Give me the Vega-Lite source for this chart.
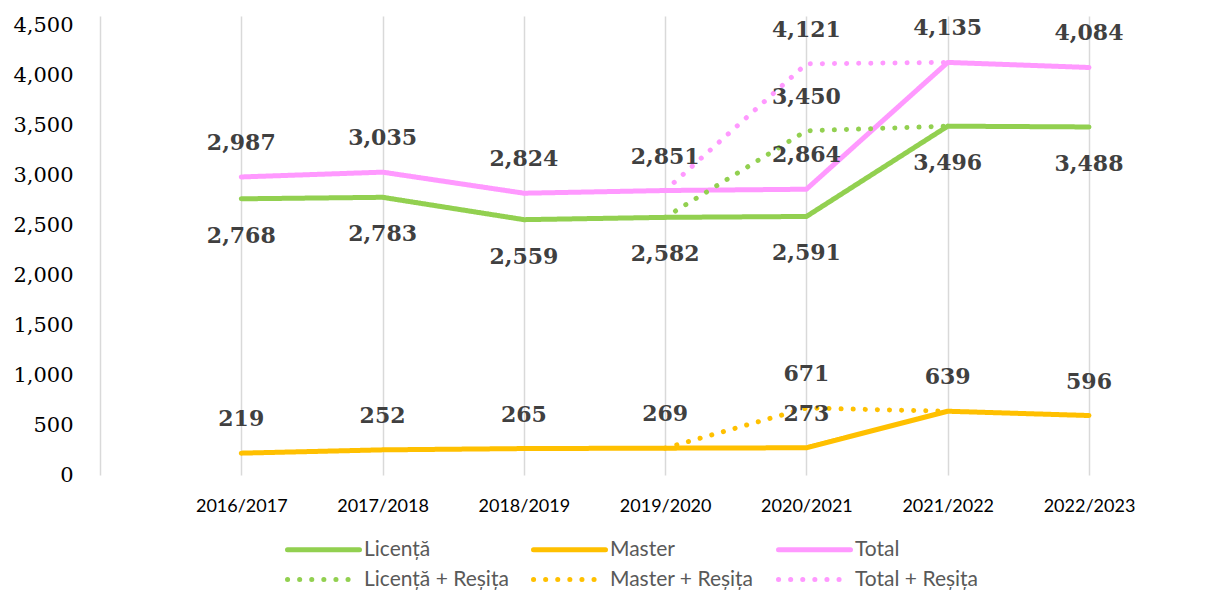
{
  "$schema": "https://vega.github.io/schema/vega-lite/v6.json",
  "width": 989,
  "height": 459,
  "autosize": {"type": "none"},
  "padding": {"left": 100, "top": 16, "right": 129, "bottom": 115},
  "background": "#ffffff",
  "config": {"view": {"stroke": null}},
  "data": {
    "values": [
      {"year": "2016/2017", "series": "Licență", "value": 2768},
      {"year": "2017/2018", "series": "Licență", "value": 2783},
      {"year": "2018/2019", "series": "Licență", "value": 2559},
      {"year": "2019/2020", "series": "Licență", "value": 2582},
      {"year": "2020/2021", "series": "Licență", "value": 2591},
      {"year": "2021/2022", "series": "Licență", "value": 3496},
      {"year": "2022/2023", "series": "Licență", "value": 3488},
      {"year": "2016/2017", "series": "Master", "value": 219},
      {"year": "2017/2018", "series": "Master", "value": 252},
      {"year": "2018/2019", "series": "Master", "value": 265},
      {"year": "2019/2020", "series": "Master", "value": 269},
      {"year": "2020/2021", "series": "Master", "value": 273},
      {"year": "2021/2022", "series": "Master", "value": 639},
      {"year": "2022/2023", "series": "Master", "value": 596},
      {"year": "2016/2017", "series": "Total", "value": 2987},
      {"year": "2017/2018", "series": "Total", "value": 3035},
      {"year": "2018/2019", "series": "Total", "value": 2824},
      {"year": "2019/2020", "series": "Total", "value": 2851},
      {"year": "2020/2021", "series": "Total", "value": 2864},
      {"year": "2021/2022", "series": "Total", "value": 4135},
      {"year": "2022/2023", "series": "Total", "value": 4084},
      {"year": "2019/2020", "series": "Licență + Reșița", "value": 2582},
      {"year": "2020/2021", "series": "Licență + Reșița", "value": 3450},
      {"year": "2021/2022", "series": "Licență + Reșița", "value": 3496},
      {"year": "2019/2020", "series": "Master + Reșița", "value": 269},
      {"year": "2020/2021", "series": "Master + Reșița", "value": 671},
      {"year": "2021/2022", "series": "Master + Reșița", "value": 639},
      {"year": "2019/2020", "series": "Total + Reșița", "value": 2851},
      {"year": "2020/2021", "series": "Total + Reșița", "value": 4121},
      {"year": "2021/2022", "series": "Total + Reșița", "value": 4135}
    ]
  },
  "encoding": {
    "x": {
      "field": "year",
      "type": "ordinal",
      "scale": {"type": "point", "padding": 0.5, "align": 1},
      "axis": {
        "title": null,
        "labelAngle": 0,
        "domain": false,
        "ticks": false,
        "grid": true,
        "gridColor": "#d9d9d9",
        "gridWidth": 1.5,
        "labelFont": "Lato",
        "labelFontSize": 18,
        "labelColor": "#000000",
        "labelPadding": 22
      }
    },
    "y": {
      "field": "value",
      "type": "quantitative",
      "scale": {"domain": [0, 4600], "nice": false},
      "axis": {
        "title": null,
        "values": [0, 500, 1000, 1500, 2000, 2500, 3000, 3500, 4000, 4500],
        "format": ",d",
        "grid": false,
        "domain": true,
        "domainColor": "#d9d9d9",
        "domainWidth": 1.5,
        "ticks": false,
        "labelFont": "DejaVu Serif",
        "labelFontSize": 21,
        "labelColor": "#000000",
        "labelPadding": 27
      }
    }
  },
  "layer": [
    {
      "mark": {"type": "line", "strokeWidth": 5, "strokeCap": "round", "strokeJoin": "round"},
      "encoding": {
        "color": {
          "field": "series",
          "type": "nominal",
          "scale": {
            "domain": ["Licență", "Master", "Total", "Licență + Reșița", "Master + Reșița", "Total + Reșița"],
            "range": ["#92D050", "#FFC000", "#FF99FF", "#92D050", "#FFC000", "#FF99FF"]
          },
          "legend": {
            "title": null,
            "orient": "none",
            "legendX": 177,
            "legendY": 523,
            "columns": 3,
            "direction": "horizontal",
            "symbolType": "M0,0H12",
            "symbolSize": 144,
            "symbolStrokeWidth": 5,
            "labelFont": "Lato",
            "labelFontSize": 21,
            "labelColor": "#595959",
            "labelOffset": 66,
            "columnPadding": 14,
            "rowPadding": 8,
            "encode": {"symbols": {"update": {"strokeCap": {"value": "round"}}}}
          }
        },
        "strokeDash": {
          "field": "series",
          "type": "nominal",
          "scale": {
            "domain": ["Licență", "Master", "Total", "Licență + Reșița", "Master + Reșița", "Total + Reșița"],
            "range": [[1, 0], [1, 0], [1, 0], [0.1, 12], [0.1, 12], [0.1, 12]]
          }
        }
      }
    },
    {
      "transform": [
        {"filter": "datum.series != 'Licență' && (indexof(datum.series, 'Reșița') < 0 || datum.year == '2020/2021')"}
      ],
      "mark": {"type": "text", "dy": -34, "font": "DejaVu Serif", "fontWeight": "bold", "fontSize": 22, "color": "#404040"},
      "encoding": {"text": {"field": "value", "type": "quantitative", "format": ",d"}}
    },
    {
      "transform": [{"filter": "datum.series == 'Licență'"}],
      "mark": {"type": "text", "dy": 37, "font": "DejaVu Serif", "fontWeight": "bold", "fontSize": 22, "color": "#404040"},
      "encoding": {"text": {"field": "value", "type": "quantitative", "format": ",d"}}
    }
  ]
}
